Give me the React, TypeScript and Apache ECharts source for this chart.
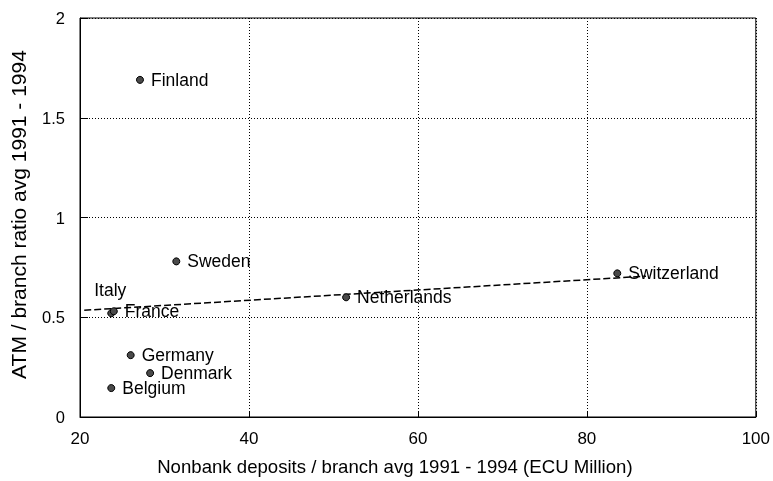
import React, { useEffect, useRef } from "react";
import * as echarts from "echarts";

const countries = ["Finland", "Sweden", "Italy", "France", "Germany", "Denmark", "Belgium", "Netherlands", "Switzerland"];
const depositsPerBranch = [27.1, 31.4, 23.7, 24.0, 26.0, 28.3, 23.7, 51.5, 83.6];
const atmPerBranch = [1.69, 0.78, 0.52, 0.53, 0.31, 0.22, 0.145, 0.60, 0.72];
const trendX = [20.5, 87];
const trendY = [0.535, 0.706];
const xTicks = [20, 40, 60, 80, 100];
const yTicks = [0, 0.5, 1, 1.5, 2];

const FONT = "'Liberation Sans', Arial, sans-serif";

export default function App() {
  const ref = useRef<HTMLDivElement>(null);
  useEffect(() => {
    if (!ref.current) return;
    const chart = echarts.init(ref.current, null, { renderer: "svg" });
    const points = countries.map((c, i) => {
      const item: any = { name: c, value: [depositsPerBranch[i], atmPerBranch[i]] };
      if (c === "Italy") {
        item.label = { position: "top", offset: [-1, -3] };
      }
      return item;
    });
    chart.setOption({
      animation: false,
      textStyle: { fontFamily: FONT },
      grid: { left: 77, right: 16, top: 18, bottom: 60, show: true, borderColor: "#000", borderWidth: 1 },
      xAxis: {
        type: "value",
        min: xTicks[0],
        max: xTicks[xTicks.length - 1],
        interval: 20,
        name: "Nonbank deposits / branch avg 1991 - 1994 (ECU Million)",
        nameLocation: "middle",
        nameGap: 40,
        nameTextStyle: { color: "#000", fontSize: 18.6, fontFamily: FONT, padding: [0, 46, 0, 0] },
        axisLine: { lineStyle: { color: "#000", width: 1 } },
        axisTick: { inside: true, length: 6, lineStyle: { color: "#000" } },
        axisLabel: { color: "#000", fontSize: 17, margin: 13, fontFamily: FONT },
        splitLine: { show: true, lineStyle: { color: "#000", type: [1, 2], width: 1 } },
      },
      yAxis: {
        type: "value",
        min: yTicks[0],
        max: yTicks[yTicks.length - 1],
        interval: 0.5,
        name: "ATM / branch ratio avg 1991 - 1994",
        nameLocation: "middle",
        nameGap: 51,
        nameTextStyle: { color: "#000", fontSize: 21, fontFamily: FONT, padding: [0, 0, 0, 6] },
        axisLine: { show: true, lineStyle: { color: "#000", width: 1 } },
        axisTick: { show: true, inside: true, length: 8, lineStyle: { color: "#000" } },
        axisLabel: { color: "#000", fontSize: 16.5, margin: 15, fontFamily: FONT },
        splitLine: { show: true, lineStyle: { color: "#000", type: [1, 2], width: 1 } },
      },
      series: [
        {
          type: "line",
          data: trendX.map((x, i) => [x, trendY[i]]),
          showSymbol: false,
          symbol: "none",
          lineStyle: { color: "#000", width: 1.5, type: [7, 3] },
          z: 1,
        },
        {
          type: "scatter",
          data: points,
          symbol: "circle",
          symbolSize: 7,
          itemStyle: { color: "#4a4a4a", borderColor: "#000", borderWidth: 1, opacity: 1 },
          label: {
            show: true,
            position: "right",
            distance: 7,
            formatter: "{b}",
            color: "#000",
            fontSize: 17.5,
            fontFamily: FONT,
          },
          z: 2,
        },
      ],
    });
    return () => chart.dispose();
  }, []);
  return <div ref={ref} style={{ position: "fixed", left: 0, top: 0, width: 773, height: 481 }} />;
}
